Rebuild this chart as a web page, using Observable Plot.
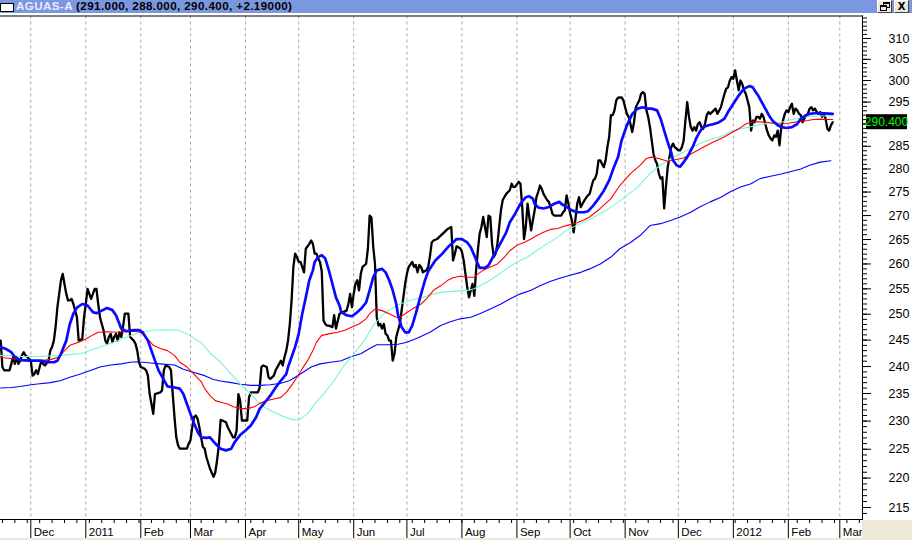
<!DOCTYPE html>
<html>
<head>
<meta charset="utf-8">
<script src="https://cdn.jsdelivr.net/npm/d3@7"></script>
<script src="https://cdn.jsdelivr.net/npm/@observablehq/plot@0.6"></script>
<style>
  html, body { margin: 0; padding: 0; background: #ffffff; }
  body { width: 912px; height: 540px; overflow: hidden; position: relative; font-family: "Liberation Sans", Arial, sans-serif; }
  #titlebar { position: absolute; left: 0; top: 0; width: 912px; height: 13px; background: #7b97df; white-space: nowrap; }
  #titlebar .icon { position: absolute; left: 0; top: 3px; width: 12px; height: 7px; background: #ffffff; border: 1px solid #000000; }
  #titlebar .caption { position: absolute; left: 16px; top: -1px; font: bold 11.6px "Liberation Sans", Arial, sans-serif; letter-spacing: 0.4px; line-height: 14px; color: #000000; }
  #titlebar .caption .sym { color: #e6ecff; }
  .btn { position: absolute; top: 0; width: 15px; height: 13px; background: #ece9d8; box-sizing: border-box; border: 1px solid; border-color: #ffffff #404040 #404040 #ffffff; font: bold 10px "DejaVu Sans", sans-serif; line-height: 11px; text-align: center; color: #000; }
  .restore .a, .restore .b { position: absolute; width: 5px; height: 3px; border: 1px solid #000; border-top-width: 2px; background: #ece9d8; }
  .restore .a { left: 5px; top: 1px; }
  .restore .b { left: 2px; top: 4px; }
  #chart { position: absolute; left: 0; top: 13px; }
  #corner { position: absolute; left: 862px; top: 520px; width: 50px; height: 20px; background: #ece9d8; }
  #bottomstrip { position: absolute; left: 0; top: 538px; width: 912px; height: 2px; background: #ece9d8; }
</style>
</head>
<body>
<div id="titlebar">
  <div class="icon"></div>
  <div class="caption" id="caption"></div>
  <div class="btn restore" style="left:877px"><div class="a"></div><div class="b"></div></div>
  <div class="btn" style="left:894px">X</div>
</div>
<div id="chart"></div>
<div id="corner"></div>
<div id="bottomstrip"></div>
<script>
// ---- Title ----
const symbol = "AGUAS-A";
const titleValues = ["291.000", "288.000", "290.400", "+2.19000"];
const lastClose = 290.4;

// ---- Axis ticks ----
const monthTickDates = ["2010-12-01","2011-01-01","2011-02-01","2011-03-01","2011-04-01","2011-05-01","2011-06-01","2011-07-01","2011-08-01","2011-09-01","2011-10-01","2011-11-01","2011-12-01","2012-01-01","2012-02-01","2012-03-01"];
const monthTickLabels = ["Dec","2011","Feb","Mar","Apr","May","Jun","Jul","Aug","Sep","Oct","Nov","Dec","2012","Feb","Mar"];
const priceTicks = [215,220,225,230,235,240,245,250,255,260,265,270,275,280,285,290,295,300,305,310];
// the 290 label is hidden behind the last-value marker in the original
const hiddenPriceLabels = [290];

// ---- Price (close) ----
const closeSeries = [
["2010-11-14",244.9],["2010-11-15",239.9],["2010-11-16",239.3],["2010-11-19",239.3],["2010-11-20",240.5],["2010-11-21",241.8],["2010-11-22",240.5],["2010-11-23",241.8],["2010-11-24",240.5],["2010-11-25",241.1],["2010-11-26",242.1],["2010-11-27",242.7],["2010-11-28",242.1],["2010-11-29",241.8],
["2010-12-01",241.1],["2010-12-02",238.3],["2010-12-03",238.6],["2010-12-04",239.3],["2010-12-05",238.6],["2010-12-06",239.9],["2010-12-07",241.1],["2010-12-08",240.5],["2010-12-09",240.2],["2010-12-11",241.1],["2010-12-12",243.0],["2010-12-13",243.7],["2010-12-14",244.9],["2010-12-15",247.6],["2010-12-16",251.4],["2010-12-17",254.0],["2010-12-18",256.7],["2010-12-19",258.0],["2010-12-20",255.9],["2010-12-21",254.0],["2010-12-22",252.7],["2010-12-23",252.7],["2010-12-24",253.0],["2010-12-25",252.0],["2010-12-26",250.7],["2010-12-27",249.4],["2010-12-28",244.9],["2010-12-30",245.2],["2010-12-31",249.4],
["2011-01-01",252.0],["2011-01-02",255.0],["2011-01-03",254.0],["2011-01-04",253.0],["2011-01-05",254.0],["2011-01-06",255.0],["2011-01-07",255.0],["2011-01-08",252.0],["2011-01-09",249.4],["2011-01-10",248.1],["2011-01-11",246.9],["2011-01-12",244.9],["2011-01-13",244.3],["2011-01-14",245.6],["2011-01-15",246.2],["2011-01-16",244.6],["2011-01-17",245.6],["2011-01-18",246.2],["2011-01-19",244.9],["2011-01-20",246.5],["2011-01-21",245.6],["2011-01-22",247.6],["2011-01-23",250.1],["2011-01-25",250.1],["2011-01-26",245.6],["2011-01-28",244.9],["2011-01-29",244.3],["2011-01-30",243.0],["2011-01-31",240.8],
["2011-02-01",239.9],["2011-02-03",239.6],["2011-02-04",239.3],["2011-02-05",238.3],["2011-02-06",234.9],["2011-02-07",233.1],["2011-02-08",231.3],["2011-02-09",234.9],["2011-02-12",235.2],["2011-02-13",235.6],["2011-02-14",239.3],["2011-02-15",240.2],["2011-02-17",239.9],["2011-02-18",239.3],["2011-02-19",234.9],["2011-02-20",230.7],["2011-02-21",227.1],["2011-02-22",225.7],["2011-02-23",225.1],["2011-02-27",225.1],["2011-02-28",226.0],
["2011-03-01",226.6],["2011-03-02",228.9],["2011-03-03",230.7],["2011-03-04",231.0],["2011-03-05",230.4],["2011-03-06",228.9],["2011-03-07",227.1],["2011-03-08",225.4],["2011-03-09",225.1],["2011-03-10",223.6],["2011-03-12",221.6],["2011-03-14",220.2],["2011-03-15",221.0],["2011-03-16",223.1],["2011-03-17",225.7],["2011-03-18",230.2],["2011-03-19",230.1],["2011-03-21",229.8],["2011-03-22",228.9],["2011-03-24",227.7],["2011-03-25",227.1],["2011-03-26",227.1],["2011-03-27",228.3],["2011-03-28",234.9],["2011-03-29",233.7],["2011-03-30",230.1],
["2011-04-02",230.1],["2011-04-03",234.3],["2011-04-04",235.2],["2011-04-08",235.2],["2011-04-09",236.1],["2011-04-10",239.9],["2011-04-11",240.2],["2011-04-13",239.9],["2011-04-14",238.0],["2011-04-15",237.7],["2011-04-17",238.3],["2011-04-18",239.3],["2011-04-20",240.5],["2011-04-21",241.1],["2011-04-22",240.2],["2011-04-23",241.8],["2011-04-24",243.0],["2011-04-25",244.9],["2011-04-26",248.1],["2011-04-27",252.7],["2011-04-28",259.4],["2011-04-29",262.1],["2011-04-30",261.4],
["2011-05-01",260.4],["2011-05-02",260.4],["2011-05-03",259.4],["2011-05-04",258.3],["2011-05-05",263.1],["2011-05-07",264.1],["2011-05-08",264.8],["2011-05-09",264.1],["2011-05-10",262.1],["2011-05-11",262.1],["2011-05-12",261.1],["2011-05-13",260.4],["2011-05-14",258.5],["2011-05-15",248.8],["2011-05-16",248.1],["2011-05-17",247.8],["2011-05-18",247.8],["2011-05-20",247.5],["2011-05-21",249.8],["2011-05-22",247.2],["2011-05-24",250.1],["2011-05-26",250.4],["2011-05-28",250.7],["2011-05-29",252.0],["2011-05-30",254.0],["2011-05-31",251.4],
["2011-06-01",254.0],["2011-06-02",256.0],["2011-06-03",256.7],["2011-06-04",254.7],["2011-06-05",258.0],["2011-06-06",259.4],["2011-06-08",260.0],["2011-06-09",263.1],["2011-06-10",270.0],["2011-06-11",269.6],["2011-06-12",263.6],["2011-06-13",260.0],["2011-06-14",249.4],["2011-06-15",247.8],["2011-06-16",248.1],["2011-06-17",247.2],["2011-06-18",248.1],["2011-06-19",246.2],["2011-06-20",245.9],["2011-06-21",244.9],["2011-06-22",244.9],["2011-06-23",241.1],["2011-06-24",242.4],["2011-06-25",245.6],["2011-06-26",246.9],["2011-06-27",248.1],["2011-06-28",250.7],["2011-06-29",253.3],["2011-06-30",256.0],
["2011-07-01",258.0],["2011-07-02",259.4],["2011-07-04",260.4],["2011-07-05",259.4],["2011-07-06",259.8],["2011-07-07",258.3],["2011-07-08",259.8],["2011-07-09",259.4],["2011-07-10",258.3],["2011-07-12",258.7],["2011-07-13",259.4],["2011-07-14",261.6],["2011-07-15",264.4],["2011-07-16",264.8],["2011-07-18",265.1],["2011-07-20",265.8],["2011-07-22",266.5],["2011-07-24",267.2],["2011-07-26",267.6],["2011-07-27",260.7],["2011-07-28",262.0],["2011-07-29",263.6],["2011-07-31",263.2],
["2011-08-01",262.5],["2011-08-02",260.7],["2011-08-03",258.0],["2011-08-04",255.3],["2011-08-05",253.3],["2011-08-06",254.7],["2011-08-07",256.0],["2011-08-08",253.6],["2011-08-09",258.7],["2011-08-10",262.8],["2011-08-11",266.2],["2011-08-12",267.6],["2011-08-13",269.7],["2011-08-14",267.6],["2011-08-15",265.5],["2011-08-16",270.0],["2011-08-17",269.7],["2011-08-18",264.1],["2011-08-19",261.4],["2011-08-20",262.1],["2011-08-21",264.1],["2011-08-22",267.6],["2011-08-23",271.1],["2011-08-24",273.3],["2011-08-26",274.6],["2011-08-27",275.0],["2011-08-28",275.4],["2011-08-29",276.8],["2011-08-30",276.1],["2011-08-31",276.1],
["2011-09-02",277.2],["2011-09-03",276.8],["2011-09-04",271.8],["2011-09-05",265.1],["2011-09-06",267.6],["2011-09-07",272.5],["2011-09-08",269.7],["2011-09-09",266.9],["2011-09-10",269.0],["2011-09-11",271.1],["2011-09-12",273.9],["2011-09-13",275.0],["2011-09-14",276.4],["2011-09-15",275.7],["2011-09-16",274.6],["2011-09-18",273.3],["2011-09-19",272.9],["2011-09-20",271.8],["2011-09-21",270.4],["2011-09-22",270.0],["2011-09-26",270.0],["2011-09-27",270.7],["2011-09-28",271.1],["2011-09-29",274.3],["2011-09-30",272.5],
["2011-10-01",270.4],["2011-10-02",269.0],["2011-10-03",266.5],["2011-10-04",269.3],["2011-10-05",272.5],["2011-10-06",273.9],["2011-10-07",271.8],["2011-10-08",272.5],["2011-10-09",273.2],["2011-10-11",274.3],["2011-10-12",274.6],["2011-10-13",276.1],["2011-10-14",277.5],["2011-10-15",277.9],["2011-10-16",279.0],["2011-10-17",281.9],["2011-10-18",281.9],["2011-10-19",281.1],["2011-10-20",280.4],["2011-10-21",281.9],["2011-10-22",284.8],["2011-10-23",287.1],["2011-10-24",292.0],["2011-10-25",292.0],["2011-10-26",293.1],["2011-10-27",295.4],["2011-10-28",296.0],["2011-10-30",296.1],["2011-10-31",295.4],
["2011-11-01",293.8],["2011-11-02",292.3],["2011-11-03",291.6],["2011-11-04",290.0],["2011-11-05",288.2],["2011-11-06",290.4],["2011-11-07",293.8],["2011-11-09",295.4],["2011-11-10",296.9],["2011-11-11",297.3],["2011-11-12",296.9],["2011-11-13",293.1],["2011-11-14",291.6],["2011-11-15",289.3],["2011-11-16",286.3],["2011-11-17",283.3],["2011-11-18",281.9],["2011-11-19",281.1],["2011-11-20",279.0],["2011-11-21",277.9],["2011-11-22",278.2],["2011-11-23",271.5],["2011-11-24",276.1],["2011-11-25",280.4],["2011-11-26",282.6],["2011-11-27",284.8],["2011-11-28",285.6],["2011-11-29",284.8],
["2011-12-01",284.1],["2011-12-02",284.1],["2011-12-03",284.8],["2011-12-04",286.3],["2011-12-05",290.8],["2011-12-06",295.0],["2011-12-07",291.6],["2011-12-08",289.3],["2011-12-09",288.5],["2011-12-10",289.3],["2011-12-11",288.5],["2011-12-12",290.0],["2011-12-13",290.4],["2011-12-14",289.3],["2011-12-15",288.9],["2011-12-16",290.0],["2011-12-17",292.0],["2011-12-18",292.7],["2011-12-19",292.3],["2011-12-21",293.1],["2011-12-22",293.5],["2011-12-23",292.3],["2011-12-25",293.8],["2011-12-26",295.4],["2011-12-27",296.9],["2011-12-28",298.1],["2011-12-29",298.4],["2011-12-30",300.0],["2011-12-31",300.8],
["2012-01-01",300.4],["2012-01-02",302.4],["2012-01-03",300.0],["2012-01-04",297.7],["2012-01-05",300.0],["2012-01-06",299.2],["2012-01-07",297.7],["2012-01-08",296.9],["2012-01-09",295.4],["2012-01-10",293.8],["2012-01-11",288.5],["2012-01-12",290.8],["2012-01-13",290.4],["2012-01-14",291.6],["2012-01-15",291.6],["2012-01-16",291.2],["2012-01-17",292.3],["2012-01-18",291.6],["2012-01-19",290.0],["2012-01-20",288.5],["2012-01-21",287.4],["2012-01-22",286.7],["2012-01-23",286.3],["2012-01-24",287.4],["2012-01-25",287.1],["2012-01-26",288.5],["2012-01-27",285.2],["2012-01-28",289.3],["2012-01-29",290.8],["2012-01-30",292.3],["2012-01-31",293.1],
["2012-02-01",292.7],["2012-02-02",293.8],["2012-02-03",294.6],["2012-02-04",292.3],["2012-02-05",293.5],["2012-02-06",293.1],["2012-02-07",292.3],["2012-02-08",292.0],["2012-02-09",290.4],["2012-02-10",291.2],["2012-02-11",292.0],["2012-02-12",292.3],["2012-02-13",293.5],["2012-02-14",293.8],["2012-02-15",293.1],["2012-02-16",293.5],["2012-02-17",292.7],["2012-02-18",292.3],["2012-02-19",292.7],["2012-02-20",291.6],["2012-02-21",292.3],["2012-02-22",291.2],["2012-02-23",288.9],["2012-02-24",288.5],["2012-02-25",289.7],["2012-02-26",290.4]
];

// ---- Short moving average (thick blue) ----
const shortAverage = [
["2010-11-14",243.7],["2010-11-17",243.3],["2010-11-20",242.7],["2010-11-22",241.8],["2010-11-25",241.2],["2010-12-01",241.1],["2010-12-06",241.1],["2010-12-11",240.8],["2010-12-14",240.8],["2010-12-16",241.1],["2010-12-18",242.4],["2010-12-21",244.9],["2010-12-23",248.1],["2010-12-25",250.1],["2010-12-27",251.3],["2010-12-30",252.0],
["2011-01-02",251.7],["2011-01-05",250.4],["2011-01-07",250.2],["2011-01-10",250.7],["2011-01-13",251.2],["2011-01-16",250.8],["2011-01-18",249.8],["2011-01-20",248.1],["2011-01-21",247.2],["2011-01-24",246.7],["2011-01-28",246.9],["2011-01-31",246.9],
["2011-02-02",246.5],["2011-02-05",244.9],["2011-02-07",243.0],["2011-02-09",241.1],["2011-02-11",239.3],["2011-02-14",237.5],["2011-02-16",236.3],["2011-02-20",236.1],["2011-02-23",235.9],["2011-02-25",234.9],["2011-02-27",233.1],
["2011-03-01",231.3],["2011-03-03",229.6],["2011-03-05",228.1],["2011-03-07",227.1],["2011-03-10",227.0],["2011-03-12",227.1],["2011-03-15",226.0],["2011-03-18",225.1],["2011-03-21",224.8],["2011-03-24",225.1],["2011-03-26",226.3],["2011-03-29",227.5],
["2011-04-01",228.3],["2011-04-04",229.2],["2011-04-07",230.7],["2011-04-09",232.2],["2011-04-12",233.4],["2011-04-15",234.6],["2011-04-18",236.1],["2011-04-21",237.4],["2011-04-24",238.6],["2011-04-25",239.9],["2011-04-27",241.8],["2011-04-29",243.7],
["2011-05-01",246.2],["2011-05-03",250.1],["2011-05-05",253.3],["2011-05-07",256.7],["2011-05-09",258.7],["2011-05-10",260.4],["2011-05-12",261.4],["2011-05-14",261.8],["2011-05-16",261.1],["2011-05-18",258.7],["2011-05-20",256.0],["2011-05-22",253.3],["2011-05-24",251.7],["2011-05-25",250.4],["2011-05-28",249.8],["2011-05-31",249.6],
["2011-06-02",250.1],["2011-06-05",251.0],["2011-06-08",252.3],["2011-06-10",254.7],["2011-06-12",257.3],["2011-06-14",258.7],["2011-06-17",259.0],["2011-06-19",258.3],["2011-06-21",256.7],["2011-06-23",254.7],["2011-06-25",252.0],["2011-06-26",249.8],["2011-06-28",247.5],["2011-06-30",246.5],
["2011-07-02",246.5],["2011-07-04",247.8],["2011-07-06",250.1],["2011-07-08",252.7],["2011-07-11",256.5],["2011-07-13",258.5],["2011-07-17",260.7],["2011-07-21",262.1],["2011-07-24",263.4],["2011-07-27",264.4],["2011-07-29",265.1],
["2011-08-01",265.1],["2011-08-04",264.4],["2011-08-06",263.4],["2011-08-08",261.7],["2011-08-10",260.0],["2011-08-11",259.2],["2011-08-14",259.2],["2011-08-16",259.7],["2011-08-18",261.1],["2011-08-20",262.4],["2011-08-23",264.4],["2011-08-26",266.5],["2011-08-28",268.6],["2011-08-31",270.4],
["2011-09-03",272.5],["2011-09-06",273.9],["2011-09-08",274.1],["2011-09-10",273.6],["2011-09-11",272.5],["2011-09-13",271.7],["2011-09-16",271.5],["2011-09-19",271.8],["2011-09-22",272.5],["2011-09-25",272.9],["2011-09-26",272.5],["2011-09-29",271.8],
["2011-10-02",271.1],["2011-10-05",270.7],["2011-10-09",270.7],["2011-10-11",270.9],["2011-10-14",272.1],["2011-10-17",273.6],["2011-10-20",275.3],["2011-10-23",277.5],["2011-10-25",279.7],["2011-10-28",282.6],["2011-10-30",286.3],
["2011-11-02",289.7],["2011-11-05",292.3],["2011-11-08",293.5],["2011-11-11",293.8],["2011-11-13",293.5],["2011-11-16",293.5],["2011-11-19",293.1],["2011-11-21",291.2],["2011-11-23",288.5],["2011-11-25",285.9],["2011-11-27",283.6],["2011-11-28",281.9],["2011-11-30",280.8],
["2011-12-02",280.5],["2011-12-04",281.5],["2011-12-06",282.6],["2011-12-09",284.8],["2011-12-11",286.7],["2011-12-13",288.2],["2011-12-15",289.3],["2011-12-18",289.7],["2011-12-21",290.0],["2011-12-24",290.4],["2011-12-27",291.2],["2011-12-29",292.7],
["2012-01-01",294.6],["2012-01-04",296.5],["2012-01-07",298.1],["2012-01-10",298.7],["2012-01-12",298.4],["2012-01-13",297.7],["2012-01-15",296.5],["2012-01-17",295.0],["2012-01-19",293.5],["2012-01-21",292.0],["2012-01-23",290.8],["2012-01-26",289.7],["2012-01-28",289.3],["2012-01-31",289.1],
["2012-02-03",289.3],["2012-02-06",290.0],["2012-02-08",291.2],["2012-02-11",292.0],["2012-02-13",292.3],["2012-02-17",292.5],["2012-02-21",292.4],["2012-02-26",292.3]
];

// ---- Medium moving average (red) ----
const mediumAverage = [
["2010-11-14",241.7],["2010-11-20",241.5],["2010-11-25",241.3],["2010-12-01",241.1],["2010-12-06",241.1],["2010-12-12",241.3],["2010-12-17",241.8],["2010-12-20",243.0],["2010-12-23",244.0],["2010-12-28",244.6],
["2011-01-01",245.2],["2011-01-05",246.0],["2011-01-08",246.5],["2011-01-13",246.6],["2011-01-19",246.5],["2011-01-23",246.6],["2011-01-28",246.7],
["2011-02-01",246.5],["2011-02-05",245.2],["2011-02-08",244.0],["2011-02-12",243.4],["2011-02-16",243.0],["2011-02-20",242.1],["2011-02-23",240.8],["2011-02-27",239.9],
["2011-03-03",238.6],["2011-03-07",237.2],["2011-03-09",235.9],["2011-03-12",234.6],["2011-03-15",233.7],["2011-03-18",233.4],["2011-03-22",233.1],["2011-03-25",232.6],["2011-03-29",232.3],
["2011-04-02",232.2],["2011-04-06",232.6],["2011-04-09",233.2],["2011-04-13",233.7],["2011-04-17",234.0],["2011-04-21",234.3],["2011-04-24",235.2],["2011-04-27",236.5],["2011-04-30",238.0],
["2011-05-03",239.6],["2011-05-06",241.1],["2011-05-09",243.0],["2011-05-11",244.6],["2011-05-14",245.9],["2011-05-18",246.2],["2011-05-23",246.5],["2011-05-27",246.9],["2011-05-31",247.5],
["2011-06-04",248.1],["2011-06-08",249.1],["2011-06-10",250.1],["2011-06-13",251.0],["2011-06-17",250.7],["2011-06-21",250.1],["2011-06-25",249.4],["2011-06-27",249.4],["2011-06-30",250.1],
["2011-07-04",251.0],["2011-07-09",252.0],["2011-07-12",253.0],["2011-07-16",254.7],["2011-07-20",255.6],["2011-07-24",256.7],["2011-07-27",257.2],["2011-07-31",257.5],
["2011-08-04",257.3],["2011-08-08",257.3],["2011-08-10",258.0],["2011-08-13",258.7],["2011-08-17",259.4],["2011-08-21",260.0],["2011-08-25",261.4],["2011-08-28",262.7],
["2011-09-01",263.8],["2011-09-05",264.4],["2011-09-09",265.1],["2011-09-12",265.8],["2011-09-16",266.5],["2011-09-20",267.1],["2011-09-24",267.3],["2011-09-27",267.7],
["2011-10-01",268.1],["2011-10-05",268.5],["2011-10-09",269.1],["2011-10-12",269.7],["2011-10-18",271.5],["2011-10-24",273.6],["2011-10-29",276.4],
["2011-11-04",279.0],["2011-11-10",281.0],["2011-11-13",282.3],["2011-11-16",282.6],["2011-11-20",282.3],["2011-11-25",281.7],["2011-11-29",282.0],
["2011-12-04",282.4],["2011-12-08",283.3],["2011-12-12",284.1],["2011-12-16",285.0],["2011-12-21",286.0],["2011-12-26",286.9],["2011-12-30",287.8],
["2012-01-04",288.9],["2012-01-08",290.0],["2012-01-11",290.4],["2012-01-14",290.5],["2012-01-20",290.4],["2012-01-24",290.1],["2012-01-28",290.0],["2012-01-31",290.1],
["2012-02-04",290.4],["2012-02-08",290.6],["2012-02-12",290.8],["2012-02-15",291.0],["2012-02-19",291.1],["2012-02-23",291.0],["2012-02-26",291.0]
];

// ---- Long moving average (aquamarine) ----
const longAverage = [
["2010-11-14",242.1],["2010-11-25",241.9],["2010-12-06",241.9],["2010-12-18",242.1],["2010-12-29",242.4],
["2011-01-09",243.7],["2011-01-17",244.6],["2011-01-24",245.6],["2011-02-01",246.5],["2011-02-08",246.9],["2011-02-16",247.0],["2011-02-22",246.9],["2011-02-27",246.2],
["2011-03-07",244.5],["2011-03-12",242.6],["2011-03-18",240.8],["2011-03-24",238.6],["2011-03-29",236.8],
["2011-04-04",234.9],["2011-04-09",233.1],["2011-04-15",231.9],["2011-04-21",231.0],["2011-04-26",230.4],["2011-04-29",230.2],
["2011-05-02",230.4],["2011-05-06",231.3],["2011-05-10",233.1],["2011-05-15",234.9],["2011-05-21",237.4],["2011-05-26",239.9],
["2011-06-01",242.4],["2011-06-07",244.9],["2011-06-12",247.8],["2011-06-17",249.8],["2011-06-22",251.0],["2011-06-27",252.0],
["2011-07-03",252.7],["2011-07-09",253.2],["2011-07-14",253.8],["2011-07-20",254.3],["2011-07-27",254.5],
["2011-08-04",254.7],["2011-08-08",255.0],["2011-08-11",255.6],["2011-08-15",256.3],["2011-08-21",257.7],["2011-08-26",259.0],
["2011-09-01",260.4],["2011-09-07",261.4],["2011-09-12",262.7],["2011-09-18",264.1],["2011-09-24",265.5],["2011-09-29",266.9],
["2011-10-05",268.0],["2011-10-11",269.0],["2011-10-16",270.0],["2011-10-22",271.3],["2011-10-28",272.8],
["2011-11-02",274.3],["2011-11-08",276.0],["2011-11-15",279.0],["2011-11-21",280.8],["2011-11-27",282.3],
["2011-12-02",283.3],["2011-12-08",284.5],["2011-12-13",285.6],["2011-12-19",286.5],["2011-12-25",287.2],["2011-12-30",288.2],
["2012-01-05",288.9],["2012-01-11",289.4],["2012-01-16",289.9],["2012-01-22",290.2],["2012-01-28",290.4],
["2012-02-02",290.9],["2012-02-08",291.4],["2012-02-13",291.7],["2012-02-19",291.8],["2012-02-26",291.8]
];

// ---- Longest moving average (thin blue) ----
const longestAverage = [
["2010-11-14",236.0],["2010-11-20",236.1],["2010-11-25",236.3],["2010-12-01",236.6],["2010-12-06",236.8],["2010-12-12",237.0],["2010-12-18",237.4],["2010-12-23",238.0],["2010-12-29",238.6],
["2011-01-04",239.3],["2011-01-09",239.9],["2011-01-15",240.3],["2011-01-21",240.5],["2011-01-26",240.8],["2011-01-30",240.9],
["2011-02-05",240.7],["2011-02-12",240.5],["2011-02-20",240.3],["2011-02-25",239.5],
["2011-03-03",238.9],["2011-03-09",238.3],["2011-03-14",237.6],["2011-03-18",237.3],["2011-03-24",237.0],["2011-03-29",236.7],
["2011-04-04",236.5],["2011-04-09",236.5],["2011-04-15",236.6],["2011-04-21",236.9],["2011-04-26",237.4],
["2011-05-02",238.6],["2011-05-08",239.9],["2011-05-13",240.5],["2011-05-19",240.8],["2011-05-25",241.1],["2011-05-30",241.8],
["2011-06-05",242.4],["2011-06-10",243.4],["2011-06-14",244.1],["2011-06-20",244.1],["2011-06-26",244.2],
["2011-07-01",244.6],["2011-07-07",245.4],["2011-07-14",246.5],["2011-07-20",247.8],["2011-07-25",248.5],["2011-07-31",249.1],
["2011-08-06",249.4],["2011-08-11",250.1],["2011-08-17",251.0],["2011-08-23",252.0],["2011-08-28",253.0],
["2011-09-03",254.0],["2011-09-09",254.7],["2011-09-14",255.6],["2011-09-20",256.5],["2011-09-26",257.2],
["2011-10-01",257.7],["2011-10-07",258.3],["2011-10-12",259.0],["2011-10-18",260.0],["2011-10-24",261.4],["2011-10-29",263.1],
["2011-11-04",264.4],["2011-11-10",266.0],["2011-11-15",267.9],["2011-11-21",268.3],["2011-11-27",269.0],
["2011-12-02",269.7],["2011-12-08",270.7],["2011-12-13",271.8],["2011-12-19",272.9],["2011-12-25",273.9],["2011-12-30",275.0],
["2012-01-05",276.1],["2012-01-11",276.8],["2012-01-16",277.9],["2012-01-22",278.4],["2012-01-28",278.9],
["2012-02-02",279.4],["2012-02-08",280.0],["2012-02-13",280.8],["2012-02-19",281.5],["2012-02-25",281.8]
];

// ---- Build ----
const toDate = s => new Date(s + "T00:00:00Z");
const toRows = arr => arr.map(([d, v]) => ({date: toDate(d), value: v}));

document.getElementById("caption").innerHTML =
  '<span class="sym">' + symbol + '</span> (' + titleValues.join(", ") + ')';

const xStart = new Date("2010-11-13T22:06:00Z");
const xEnd = new Date("2012-03-13T19:05:00Z");
const monthDates = monthTickDates.map(toDate);
const labelByTime = new Map(monthDates.map((d, i) => [+d, monthTickLabels[i]]));
const weekDates = d3.utcMonday.range(xStart, xEnd);
const minorPriceTicks = d3.range(214, 316, 1);

const chart = Plot.plot({
  width: 912,
  height: 527,
  marginLeft: 0,
  marginRight: 50,
  marginTop: 2.5,
  marginBottom: 21,
  style: {background: "transparent", fontFamily: "'Liberation Sans', Arial, sans-serif", fontSize: "12px", color: "#000", overflow: "visible"},
  x: {type: "utc", domain: [xStart, xEnd], label: null},
  y: {type: "log", domain: [213.0, 315.49], label: null},
  marks: [
    Plot.ruleX(monthDates, {stroke: "#a9a9a9", strokeDasharray: "3,3", strokeWidth: 1}),
    Plot.axisX({ticks: weekDates, tickSize: 4, tickFormat: () => "", label: null, stroke: "#000", strokeOpacity: 1}),
    Plot.axisX({ticks: monthDates, tickSize: 19, tickFormat: () => "", label: null, stroke: "#000", strokeOpacity: 1}),
    Plot.axisX({ticks: monthDates, tickSize: 0, tickPadding: 8, tickFormat: d => labelByTime.get(+d), label: null, textAnchor: "start", dx: 3, fontSize: 11.5, fill: "#000"}),
    Plot.axisY({anchor: "right", ticks: minorPriceTicks, tickSize: 4, tickFormat: () => "", label: null, stroke: "#000", strokeOpacity: 1}),
    Plot.axisY({anchor: "right", ticks: priceTicks, tickSize: 8, tickPadding: 18, tickFormat: d => hiddenPriceLabels.includes(d) ? "" : String(d), label: null, stroke: "#000", strokeOpacity: 1, fontSize: 12.5, fill: "#000"}),
    Plot.frame({anchor: "top", stroke: "#000"}),
    Plot.frame({anchor: "right", stroke: "#000"}),
    Plot.frame({anchor: "bottom", stroke: "#000"}),
    Plot.line(toRows(closeSeries), {x: "date", y: "value", stroke: "#000000", strokeWidth: 2.3}),
    Plot.line(toRows(longestAverage), {x: "date", y: "value", stroke: "#0000ff", strokeWidth: 1.1}),
    Plot.line(toRows(longAverage), {x: "date", y: "value", stroke: "#78f5d2", strokeWidth: 1.1}),
    Plot.line(toRows(mediumAverage), {x: "date", y: "value", stroke: "#ff0000", strokeWidth: 1.1}),
    Plot.line(toRows(shortAverage), {x: "date", y: "value", stroke: "#0a0aff", strokeWidth: 2.7})
  ]
});

document.getElementById("chart").appendChild(chart);

// Last-value marker on the price axis
const yLast = chart.scale("y").apply(lastClose);
const xRight = 912 - 50;
const svg = d3.select(chart);
svg.append("rect")
  .attr("x", xRight + 4).attr("y", yLast - 7.5)
  .attr("width", 41).attr("height", 15)
  .attr("fill", "#000");
svg.append("text")
  .attr("x", xRight + 24.5).attr("y", yLast)
  .attr("text-anchor", "middle").attr("dy", "0.35em")
  .attr("fill", "#00ff00")
  .style("font", "12px 'Liberation Sans', Arial, sans-serif")
  .text(lastClose.toFixed(3));
</script>
</body>
</html>
